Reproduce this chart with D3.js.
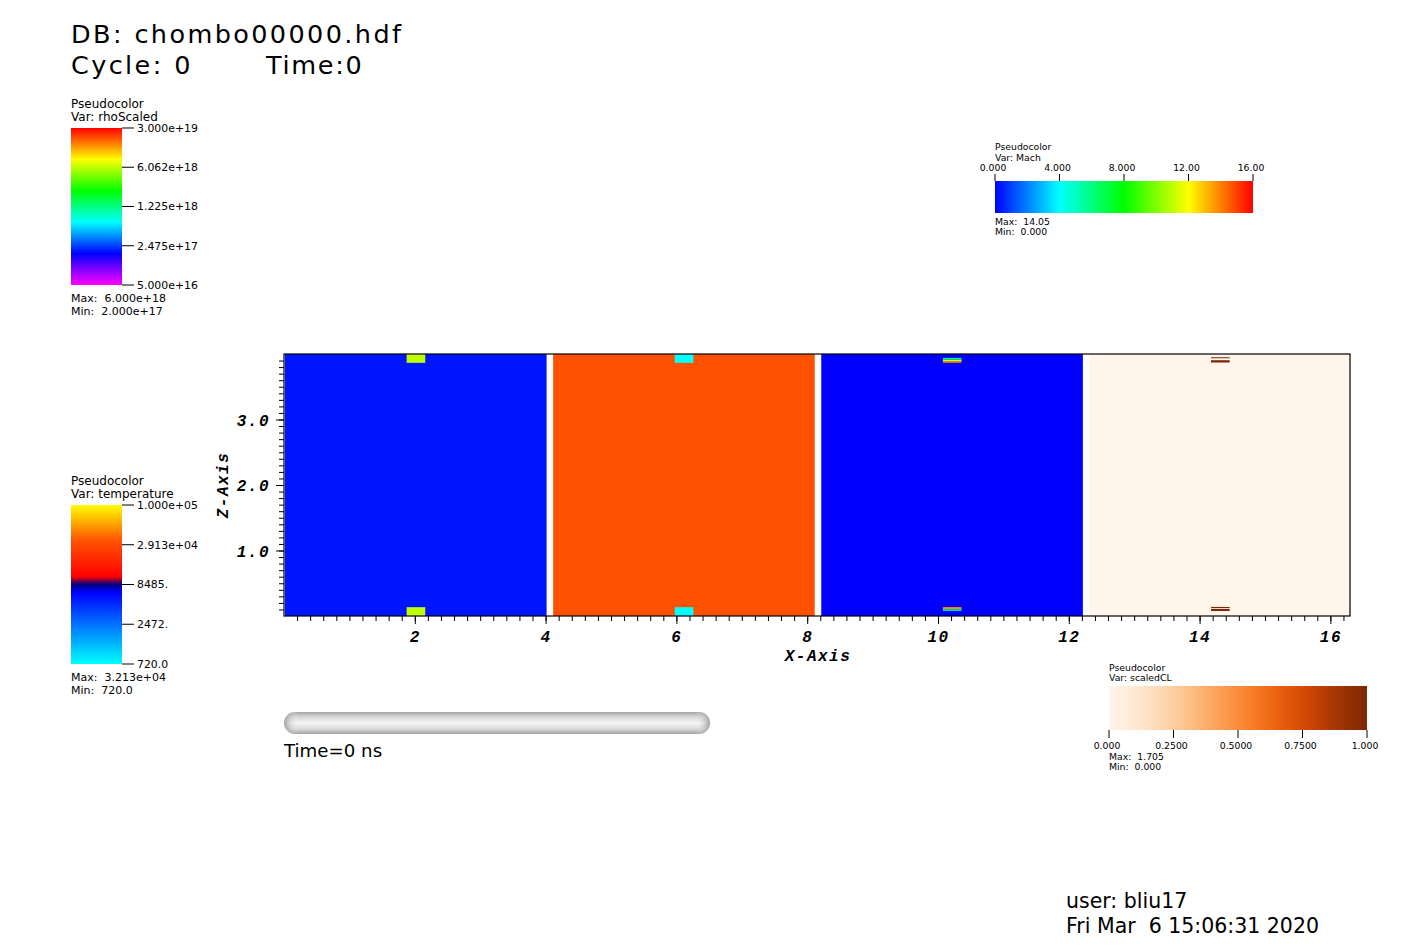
<!DOCTYPE html>
<html>
<head>
<meta charset="utf-8">
<script src="https://cdn.jsdelivr.net/npm/d3@7"></script>
<style>
  html, body { margin: 0; padding: 0; background: #ffffff; }
  svg { display: block; }
  .sans { font-family: "DejaVu Sans", "Liberation Sans", sans-serif; fill: #000; }
  .mono { font-family: "Liberation Mono", "DejaVu Sans Mono", monospace; font-weight: bold; font-style: italic; fill: #000; }
</style>
</head>
<body>
<svg id="chart" width="1423" height="948"></svg>
<script>
// ---------------- data ----------------
const blockVars   = ["rhoScaled", "temperature", "Mach", "scaledCL"];
const blockStart  = [0.0, 4.1, 8.2, 12.3];
const blockSize   = 4.0;
const blockValue  = [2.0e17, 3.213e4, 0.0, 0.0];

// small feature cells inside each block: relative x range, z range, value
const cellX = [1.875, 2.16];
const featureCells = [
  { block: 0, z0: 0.000, z1: 0.135, v: 6.0e18 },
  { block: 0, z0: 3.865, z1: 4.000, v: 6.0e18 },
  { block: 1, z0: 0.000, z1: 0.135, v: 720.0 },
  { block: 1, z0: 3.865, z1: 4.000, v: 720.0 },
  { block: 2, z0: 3.865, z1: 3.890, v: 14.05 },
  { block: 2, z0: 3.890, z1: 3.910, v: 11.6 },
  { block: 2, z0: 3.910, z1: 3.925, v: 8.0 },
  { block: 2, z0: 3.925, z1: 3.940, v: 4.4 },
  { block: 2, z0: 0.115, z1: 0.137, v: 14.05 },
  { block: 2, z0: 0.100, z1: 0.115, v: 11.6 },
  { block: 2, z0: 0.088, z1: 0.100, v: 8.0 },
  { block: 2, z0: 0.076, z1: 0.088, v: 4.4 },
  { block: 3, z0: 3.870, z1: 3.905, v: 1.705 },
  { block: 3, z0: 3.935, z1: 3.950, v: 1.705 },
  { block: 3, z0: 0.076, z1: 0.107, v: 1.705 },
  { block: 3, z0: 0.120, z1: 0.138, v: 1.705 }
];

const xDomain = [0, 16.3];
const zDomain = [0, 4.0];
const xMajorTicks = [2, 4, 6, 8, 10, 12, 14, 16];
const xTickLabels = ["2", "4", "6", "8", "10", "12", "14", "16"];
const zMajorTicks = [1.0, 2.0, 3.0];
const zTickLabels = ["1.0", "2.0", "3.0"];

const rhoRange = [5.0e16, 3.0e19];
const rhoTicks = [3.0e19, 6.062e18, 1.225e18, 2.475e17, 5.0e16];
const rhoTickLabels = ["3.000e+19", "6.062e+18", "1.225e+18", "2.475e+17", "5.000e+16"];
const rhoMaxMin = ["Max:  6.000e+18", "Min:  2.000e+17"];

const tempRange = [720.0, 1.0e5];
const tempTicks = [1.0e5, 2.913e4, 8485, 2472, 720.0];
const tempTickLabels = ["1.000e+05", "2.913e+04", "8485.", "2472.", "720.0"];
const tempMaxMin = ["Max:  3.213e+04", "Min:  720.0"];

const machRange = [0, 16];
const machTicks = [0, 4, 8, 12, 16];
const machTickLabels = ["0.000", "4.000", "8.000", "12.00", "16.00"];
const machMaxMin = ["Max:  14.05", "Min:  0.000"];

const clRange = [0, 1];
const clTicks = [0, 0.25, 0.5, 0.75, 1.0];
const clTickLabels = ["0.000", "0.2500", "0.5000", "0.7500", "1.000"];
const clMaxMin = ["Max:  1.705", "Min:  0.000"];

const titleLines = ["DB: chombo00000.hdf", "Cycle: 0", "Time:0"];
const timeLabel = "Time=0 ns";
const userLines = ["user: bliu17", "Fri Mar  6 15:06:31 2020"];

// ---------------- colour tables ----------------
const rainbowStops = ["#ff00ff", "#0000ff", "#00ffff", "#00ff00", "#ffff00", "#ff0000"];
const hotStops = ["#0000ff", "#00ffff", "#00ff00", "#ffff00", "#ff0000"];
const hotColdPos = [0, 0.45, 0.5, 0.55, 0.78, 1.0];
const hotColdCol = ["#00ffff", "#0000ff", "#000080", "#ff0000", "#ff5500", "#ffff00"];

const rhoT = d3.scaleLog().domain(rhoRange).range([0, 1]).clamp(true);
const rhoPal = d3.scaleLinear().domain(d3.range(6).map(i => i / 5)).range(rainbowStops).interpolate(d3.interpolateRgb);
const rhoColor = v => rhoPal(rhoT(v));

const tempT = d3.scaleLog().domain(tempRange).range([0, 1]).clamp(true);
const tempPal = d3.scaleLinear().domain(hotColdPos).range(hotColdCol).interpolate(d3.interpolateRgb);
const tempColor = v => tempPal(tempT(v));

const machT = d3.scaleLinear().domain(machRange).range([0, 1]).clamp(true);
const machPal = d3.scaleLinear().domain(d3.range(5).map(i => i / 4)).range(hotStops).interpolate(d3.interpolateRgb);
const machColor = v => machPal(machT(v));

const clT = d3.scaleLinear().domain(clRange).range([0, 1]).clamp(true);
const clColor = v => d3.interpolateOranges(clT(v));

const colorFns = [rhoColor, tempColor, machColor, clColor];

// ---------------- drawing ----------------
const svg = d3.select("#chart");
svg.append("rect").attr("width", 1423).attr("height", 948).attr("fill", "#ffffff");
const defs = svg.append("defs");

const plot = { left: 284, right: 1350, top: 354, bottom: 616 };
const x = d3.scaleLinear().domain(xDomain).range([plot.left, plot.right]);
const z = d3.scaleLinear().domain(zDomain).range([plot.bottom, plot.top]);

// blocks
const gPlot = svg.append("g");
gPlot.selectAll("rect.block").data(blockVars).join("rect")
  .attr("class", "block")
  .attr("x", (d, i) => x(blockStart[i]) + 1)
  .attr("width", (d, i) => x(blockStart[i] + blockSize) - x(blockStart[i]))
  .attr("y", z(zDomain[1]))
  .attr("height", z(zDomain[0]) - z(zDomain[1]))
  .attr("fill", (d, i) => colorFns[i](blockValue[i]));

gPlot.selectAll("rect.cell").data(featureCells).join("rect")
  .attr("class", "cell")
  .attr("x", d => x(blockStart[d.block] + cellX[0]))
  .attr("width", d => x(blockStart[d.block] + cellX[1]) - x(blockStart[d.block] + cellX[0]))
  .attr("y", d => z(d.z1))
  .attr("height", d => z(d.z0) - z(d.z1))
  .attr("fill", d => colorFns[d.block](d.v));

// frame
svg.append("rect")
  .attr("x", plot.left).attr("y", plot.top)
  .attr("width", plot.right - plot.left).attr("height", plot.bottom - plot.top)
  .attr("fill", "none").attr("stroke", "#000").attr("stroke-width", 1.2);

// x axis
const xMinor = d3.range(1, 82).map(i => i * 0.2).filter(v => v < xDomain[1]);
const gx = svg.append("g").attr("transform", `translate(0,${plot.bottom})`);
gx.call(d3.axisBottom(x).tickValues(xMinor).tickSize(5).tickFormat(""))
  .call(g => g.select(".domain").remove());
gx.append("g").call(d3.axisBottom(x).tickValues(xMajorTicks).tickSize(8)
  .tickFormat((d, i) => xTickLabels[i]))
  .call(g => g.select(".domain").remove())
  .call(g => g.selectAll("text").attr("class", "mono").attr("font-size", 16)
    .attr("letter-spacing", 1.5).attr("y", 0).attr("dy", 0).attr("transform", "translate(0,26)")
    .style("font-family", '"Liberation Mono", monospace').style("font-weight", "bold").style("font-style", "italic"));
gx.selectAll("line").attr("stroke", "#000");
svg.append("text").attr("class", "mono").attr("x", 818).attr("y", 661)
  .attr("text-anchor", "middle").attr("font-size", 16).attr("letter-spacing", 1.5).text("X-Axis");

// z axis
const zMinor = d3.range(1, 40).map(i => i * 0.1);
const gz = svg.append("g").attr("transform", `translate(${plot.left},0)`);
gz.call(d3.axisLeft(z).tickValues(zMinor).tickSize(5).tickFormat(""))
  .call(g => g.select(".domain").remove());
gz.append("g").call(d3.axisLeft(z).tickValues(zMajorTicks).tickSize(8)
  .tickFormat((d, i) => zTickLabels[i]))
  .call(g => g.select(".domain").remove())
  .call(g => g.selectAll("text").attr("x", -14).attr("dy", "0.36em")
    .attr("font-size", 16).attr("letter-spacing", 1.5)
    .style("font-family", '"Liberation Mono", monospace').style("font-weight", "bold").style("font-style", "italic"));
gz.selectAll("line").attr("stroke", "#000");
svg.append("text").attr("class", "mono")
  .attr("transform", "translate(228,485) rotate(-90)")
  .attr("text-anchor", "middle").attr("font-size", 16).attr("letter-spacing", 1.5).text("Z-Axis");

// ---------------- legends ----------------
function gradient(id, fn, domain, logScale, vertical) {
  const g = defs.append("linearGradient").attr("id", id);
  if (vertical) g.attr("x1", 0).attr("y1", 1).attr("x2", 0).attr("y2", 0);
  else g.attr("x1", 0).attr("y1", 0).attr("x2", 1).attr("y2", 0);
  const s = logScale ? d3.scaleLog().domain(domain) : d3.scaleLinear().domain(domain);
  const n = 120;
  for (let i = 0; i <= n; i++) {
    const t = i / n;
    g.append("stop").attr("offset", t).attr("stop-color", fn(s.invert(t)));
  }
  return `url(#${id})`;
}

function verticalLegend(opt) {
  const g = svg.append("g");
  const s = d3.scaleLog().domain(opt.range).range([opt.y1, opt.y0]);
  g.append("text").attr("class", "sans").attr("x", opt.x).attr("y", opt.y0 - 20).attr("font-size", 12).text("Pseudocolor");
  g.append("text").attr("class", "sans").attr("x", opt.x).attr("y", opt.y0 - 7).attr("font-size", 12).text("Var: " + opt.name);
  g.append("rect").attr("x", opt.x).attr("y", opt.y0).attr("width", 51).attr("height", opt.y1 - opt.y0)
    .attr("fill", gradient(opt.id, opt.fn, opt.range, true, true));
  g.selectAll("line.t").data(opt.ticks).join("line")
    .attr("x1", opt.x + 51).attr("x2", opt.x + 63)
    .attr("y1", d => s(d)).attr("y2", d => s(d)).attr("stroke", "#000");
  g.selectAll("text.t").data(opt.ticks).join("text")
    .attr("class", "sans").attr("x", opt.x + 66).attr("y", d => s(d)).attr("dy", "0.36em")
    .attr("font-size", 10.9).text((d, i) => opt.labels[i]);
  g.selectAll("text.m").data(opt.maxmin).join("text")
    .attr("class", "sans").attr("x", opt.x).attr("y", (d, i) => opt.y1 + 17 + i * 13)
    .attr("font-size", 11).style("white-space", "pre").text(d => d);
}

verticalLegend({ id: "gRho", name: "rhoScaled", x: 71, y0: 128, y1: 285, range: rhoRange,
  fn: rhoColor, ticks: rhoTicks, labels: rhoTickLabels, maxmin: rhoMaxMin });
verticalLegend({ id: "gTemp", name: "temperature", x: 71, y0: 505, y1: 664, range: tempRange,
  fn: tempColor, ticks: tempTicks, labels: tempTickLabels, maxmin: tempMaxMin });

// Mach horizontal legend (ticks above)
(function () {
  const g = svg.append("g");
  const x0 = 995, x1 = 1253, y0 = 181, y1 = 213;
  const s = d3.scaleLinear().domain(machRange).range([x0, x1]);
  g.append("text").attr("class", "sans").attr("x", x0).attr("y", 149.5).attr("font-size", 9.3).text("Pseudocolor");
  g.append("text").attr("class", "sans").attr("x", x0).attr("y", 160.5).attr("font-size", 9.3).text("Var: Mach");
  g.append("rect").attr("x", x0).attr("y", y0).attr("width", x1 - x0).attr("height", y1 - y0)
    .attr("fill", gradient("gMach", machColor, machRange, false, false));
  g.selectAll("line").data(machTicks).join("line")
    .attr("x1", d => s(d)).attr("x2", d => s(d)).attr("y1", 174).attr("y2", y0).attr("stroke", "#000");
  g.selectAll("text.t").data(machTicks).join("text").attr("class", "sans")
    .attr("x", d => s(d) - 2).attr("y", 170.5).attr("text-anchor", "middle").attr("font-size", 9.3)
    .text((d, i) => machTickLabels[i]);
  g.selectAll("text.m").data(machMaxMin).join("text").attr("class", "sans")
    .attr("x", x0).attr("y", (d, i) => 224.5 + i * 10).attr("font-size", 9.3)
    .style("white-space", "pre").text(d => d);
})();

// scaledCL horizontal legend (ticks below)
(function () {
  const g = svg.append("g");
  const x0 = 1109, x1 = 1367, y0 = 686, y1 = 730;
  const s = d3.scaleLinear().domain(clRange).range([x0, x1]);
  g.append("text").attr("class", "sans").attr("x", x0).attr("y", 670.5).attr("font-size", 9.3).text("Pseudocolor");
  g.append("text").attr("class", "sans").attr("x", x0).attr("y", 680.5).attr("font-size", 9.3).text("Var: scaledCL");
  g.append("rect").attr("x", x0).attr("y", y0).attr("width", x1 - x0).attr("height", y1 - y0)
    .attr("fill", gradient("gCL", clColor, clRange, false, false));
  g.selectAll("line").data(clTicks).join("line")
    .attr("x1", d => s(d)).attr("x2", d => s(d)).attr("y1", y1).attr("y2", 738).attr("stroke", "#000");
  g.selectAll("text.t").data(clTicks).join("text").attr("class", "sans")
    .attr("x", d => s(d) - 2).attr("y", 748.5).attr("text-anchor", "middle").attr("font-size", 9.3)
    .text((d, i) => clTickLabels[i]);
  g.selectAll("text.m").data(clMaxMin).join("text").attr("class", "sans")
    .attr("x", x0).attr("y", (d, i) => 759.5 + i * 10).attr("font-size", 9.3)
    .style("white-space", "pre").text(d => d);
})();

// ---------------- time slider ----------------
const vg = defs.append("linearGradient").attr("id", "pillV").attr("x1", 0).attr("y1", 0).attr("x2", 0).attr("y2", 1);
[[0, "#a4a4a4"], [0.22, "#d6d6d6"], [0.5, "#f6f6f6"], [0.78, "#d8d8d8"], [1, "#a0a0a0"]]
  .forEach(([o, c]) => vg.append("stop").attr("offset", o).attr("stop-color", c));
const hg = defs.append("linearGradient").attr("id", "pillH").attr("x1", 0).attr("y1", 0).attr("x2", 1).attr("y2", 0);
[[0, "#808080", 0.7], [0.035, "#ffffff", 0], [0.965, "#ffffff", 0], [1, "#808080", 0.7]]
  .forEach(([o, c, a]) => hg.append("stop").attr("offset", o).attr("stop-color", c).attr("stop-opacity", a));
svg.append("rect").attr("x", 284).attr("y", 712).attr("width", 426).attr("height", 22).attr("rx", 11)
  .attr("fill", "url(#pillV)");
svg.append("rect").attr("x", 284).attr("y", 712).attr("width", 426).attr("height", 22).attr("rx", 11)
  .attr("fill", "url(#pillH)");
svg.append("text").attr("class", "sans").attr("x", 284).attr("y", 757).attr("font-size", 18.2).text(timeLabel);

// ---------------- titles ----------------
svg.append("text").attr("class", "sans").attr("x", 71).attr("y", 43).attr("font-size", 25.5)
  .attr("letter-spacing", 2.4).text(titleLines[0]);
svg.append("text").attr("class", "sans").attr("x", 71).attr("y", 74).attr("font-size", 25.5)
  .attr("letter-spacing", 2.4).text(titleLines[1]);
svg.append("text").attr("class", "sans").attr("x", 266).attr("y", 74).attr("font-size", 25.5)
  .attr("letter-spacing", 1.7).text(titleLines[2]);
svg.append("text").attr("class", "sans").attr("x", 1066).attr("y", 908).attr("font-size", 20.5).text(userLines[0]);
svg.append("text").attr("class", "sans").attr("x", 1066).attr("y", 933).attr("font-size", 20.5)
  .style("white-space", "pre").text(userLines[1]);
</script>
</body>
</html>
